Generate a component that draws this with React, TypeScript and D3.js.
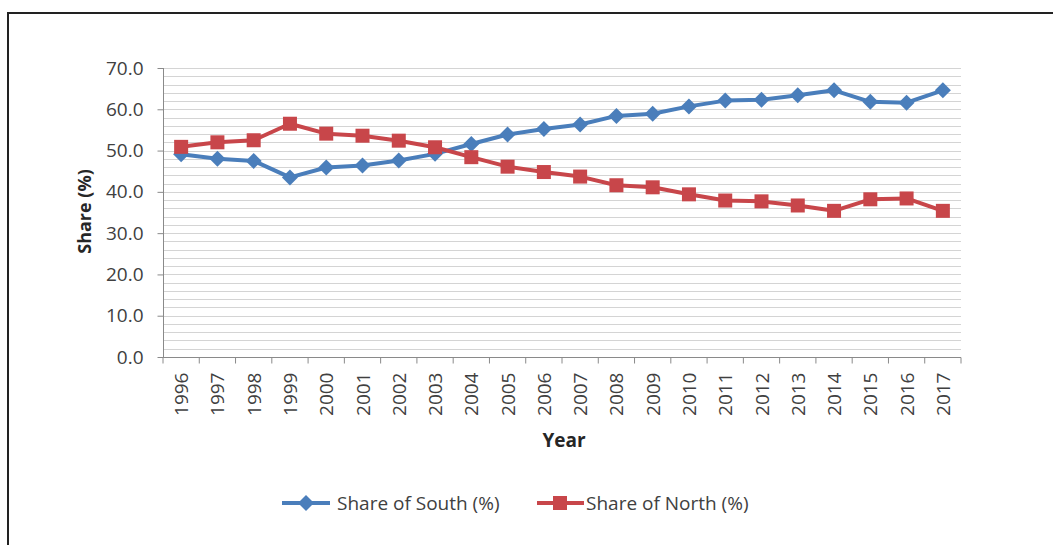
import React, { useRef, useEffect } from "react";
import * as d3 from "d3";

const years = [
  "1996", "1997", "1998", "1999", "2000", "2001", "2002", "2003", "2004", "2005", "2006",
  "2007", "2008", "2009", "2010", "2011", "2012", "2013", "2014", "2015", "2016", "2017",
];
const south = [
  49.1, 48.0, 47.5, 43.5, 45.9, 46.4, 47.6, 49.2, 51.6, 53.9, 55.2,
  56.3, 58.4, 58.9, 60.7, 62.1, 62.3, 63.4, 64.6, 61.8, 61.6, 64.6,
];
const north = [
  50.9, 52.0, 52.5, 56.5, 54.1, 53.6, 52.4, 50.8, 48.4, 46.1, 44.8,
  43.7, 41.6, 41.1, 39.4, 37.9, 37.7, 36.7, 35.4, 38.2, 38.4, 35.4,
];
const yTicks = [0, 10, 20, 30, 40, 50, 60, 70];
const seriesNames = ["Share of South (%)", "Share of North (%)"];

const W = 1053;
const H = 545;
const FONT = "'Open Sans', sans-serif";

const App = () => {
  const ref = useRef<SVGSVGElement>(null);

  useEffect(() => {
    const svg = d3.select(ref.current);
    svg.selectAll("*").remove();
    svg.attr("viewBox", [0, 0, W, H]).style("font-family", FONT);

    // frame
    svg.append("path")
      .attr("d", `M8,${H} V13 H${W}`)
      .attr("fill", "none")
      .attr("stroke", "#222")
      .attr("stroke-width", 2);

    const x = d3.scaleBand().domain(years).range([163, 961]);
    const y = d3.scaleLinear().domain([0, 70]).range([357, 68]);

    // grid every 2.0
    const grid = d3.range(2, 70.01, 2);
    svg.append("g")
      .selectAll("line")
      .data(grid)
      .join("line")
      .attr("x1", 163).attr("x2", 961)
      .attr("y1", (d) => Math.round(y(d)) + 0.5)
      .attr("y2", (d) => Math.round(y(d)) + 0.5)
      .attr("stroke", "#d4d4d4")
      .attr("stroke-width", 1.2);

    // y axis
    const yAxis = svg.append("g")
      .attr("transform", "translate(163.5,0)")
      .call(d3.axisLeft(y).tickValues(yTicks).tickSize(6).tickPadding(14).tickFormat(d3.format(".1f")));
    yAxis.select(".domain").attr("stroke", "#8a8a8a").attr("d", `M0,${y(0)}V${y(70)}`);
    yAxis.selectAll(".tick line").attr("stroke", "#8a8a8a");
    yAxis.selectAll(".tick text").attr("fill", "#404040").style("font-size", "19px").style("font-family", FONT);

    // x axis
    const xg = svg.append("g").attr("transform", `translate(0,${Math.round(y(0)) + 0.5})`);
    xg.append("line").attr("x1", 163).attr("x2", 961).attr("stroke", "#8a8a8a").attr("stroke-width", 1.2);
    xg.selectAll(".tk")
      .data(years.concat(["end"]))
      .join("line")
      .attr("class", "tk")
      .attr("x1", (d, i) => 163 + i * x.bandwidth())
      .attr("x2", (d, i) => 163 + i * x.bandwidth())
      .attr("y1", 0).attr("y2", 6)
      .attr("stroke", "#8a8a8a");
    xg.selectAll("text")
      .data(years)
      .join("text")
      .attr("transform", (d) => `translate(${x(d)! + x.bandwidth() / 2 + 7},15) rotate(-90)`)
      .attr("text-anchor", "end")
      .attr("fill", "#404040")
      .style("font-size", "19px")
      .text((d) => d);

    // axis titles
    svg.append("text")
      .attr("transform", `translate(91,${(y(0) + y(70)) / 2 - 1}) rotate(-90)`)
      .attr("text-anchor", "middle")
      .attr("font-weight", "bold")
      .attr("fill", "#262626")
      .style("font-size", "18px")
      .text("Share (%)");
    svg.append("text")
      .attr("x", 564).attr("y", 447)
      .attr("text-anchor", "middle")
      .attr("font-weight", "bold")
      .attr("fill", "#262626")
      .style("font-size", "19px")
      .text("Year");

    const line = d3.line<number>()
      .x((d, i) => x(years[i])! + x.bandwidth() / 2)
      .y((d) => y(d));

    const drawDiamond = (g: any, cx: number, cy: number) =>
      g.append("path")
        .attr("d", `M${cx},${cy - 8}L${cx + 8},${cy}L${cx},${cy + 8}L${cx - 8},${cy}Z`)
        .attr("fill", "#4a7ebb");
    const drawSquare = (g: any, cx: number, cy: number) =>
      g.append("rect")
        .attr("x", cx - 7).attr("y", cy - 7).attr("width", 14).attr("height", 14)
        .attr("fill", "#c8464a");

    const s = svg.append("g");
    s.append("path").datum(south).attr("d", line).attr("fill", "none")
      .attr("stroke", "#4a7ebb").attr("stroke-width", 4).attr("stroke-linejoin", "round");
    south.forEach((v, i) => drawDiamond(s, x(years[i])! + x.bandwidth() / 2, y(v)));

    const n = svg.append("g");
    n.append("path").datum(north).attr("d", line).attr("fill", "none")
      .attr("stroke", "#c8464a").attr("stroke-width", 4).attr("stroke-linejoin", "round");
    north.forEach((v, i) => drawSquare(n, x(years[i])! + x.bandwidth() / 2, y(v)));

    // legend
    const lg = svg.append("g");
    const ly = 503;
    lg.append("line").attr("x1", 282).attr("x2", 330).attr("y1", ly).attr("y2", ly)
      .attr("stroke", "#4a7ebb").attr("stroke-width", 4);
    drawDiamond(lg, 306, ly);
    lg.append("text").attr("x", 337).attr("y", ly + 7).attr("fill", "#404040")
      .style("font-size", "19px").text(seriesNames[0]);
    lg.append("line").attr("x1", 537).attr("x2", 584).attr("y1", ly).attr("y2", ly)
      .attr("stroke", "#c8464a").attr("stroke-width", 4);
    drawSquare(lg, 560, ly);
    lg.append("text").attr("x", 586).attr("y", ly + 7).attr("fill", "#404040")
      .style("font-size", "19px").text(seriesNames[1]);
  });

  return (
    <svg ref={ref} width={W} height={H} style={{ position: "absolute", left: 0, top: 0, background: "#fff" }}></svg>
  );
};

export default App;
